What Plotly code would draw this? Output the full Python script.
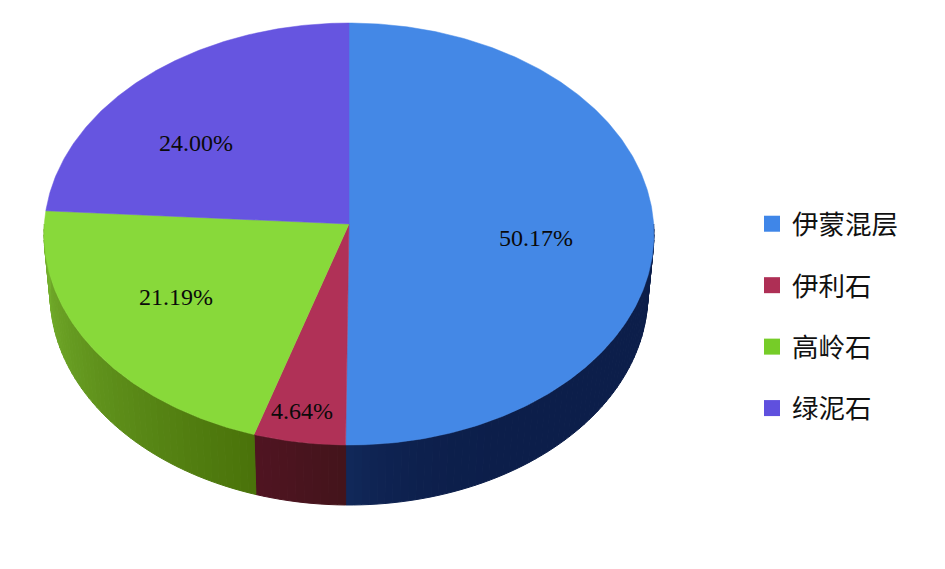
import math
import plotly.graph_objects as go

categories = ["伊蒙混层", "伊利石", "高岭石", "绿泥石"]
values = [50.17, 4.64, 21.19, 24.00]
top_colors = ["#4488E6", "#B03157", "#88D93A", "#6655E0"]
legend_colors = ["#3F86E8", "#AE2F55", "#76CC28", "#5F50DE"]
# wall colour at the start and end of each slice's visible run (clockwise)
wall_start = [(12, 30, 74), (68, 20, 27), (74, 115, 10), (100, 100, 100)]
wall_end = [(18, 42, 92), (80, 20, 34), (118, 178, 46), (100, 100, 100)]
label_x = [536, 302, 176, 196]
label_y = [240, 413, 299, 145]

W, H = 945, 569
CX, CY, RX, RY = 349, 234, 305, 211
K = 10 / 211          # perspective shift of the pie centre
DEPTH = 60 / RY
BOTTOM_SCALE = 0.98   # the lower rim is slightly narrower than the top


def project(theta, r=1.0):
    u, v = r * math.sin(theta), r * math.cos(theta)
    d = 1 + K * v
    return u * math.sqrt(1 - K * K) / d, (v + K) / d


def px(x):
    return (x - CX) / RX


def py(y):
    return (CY - y) / RY


fig = go.Figure()
total = sum(values)
start = 0.0
spans = []
for v in values:
    end = start + v / total * 2 * math.pi
    spans.append((start, end))
    start = end

# side wall, drawn as narrow strips so the shading can vary
for i, (a, b) in enumerate(spans):
    lo, hi = max(a, math.pi / 2), min(b, 3 * math.pi / 2)
    if hi <= lo:
        continue
    n = max(2, int((hi - lo) / 0.025))
    for j in range(n):
        t0 = lo + (hi - lo) * j / n
        t1 = lo + (hi - lo) * (j + 1) / n
        f = (t0 - lo) / (hi - lo)
        if i == 0:
            f = f ** 10
        col = tuple(round(s + (e - s) * f) for s, e in zip(wall_start[i], wall_end[i]))
        pts = [project(t0 + (t1 - t0) * m / 4) for m in range(5)]
        xs = [p[0] for p in pts] + [p[0] * BOTTOM_SCALE for p in reversed(pts)] + [pts[0][0]]
        ys = [p[1] for p in pts] + [p[1] - DEPTH for p in reversed(pts)] + [pts[0][1]]
        c = f"rgb{col}"
        fig.add_trace(go.Scatter(x=xs, y=ys, mode="lines", fill="toself", fillcolor=c,
                                 line=dict(color=c, width=1), hoverinfo="skip", showlegend=False))

# top face
for i, (a, b) in enumerate(spans):
    n = max(4, int((b - a) / 0.01))
    arc = [project(a + (b - a) * j / n) for j in range(n + 1)]
    apex = project(0, 0)
    xs = [apex[0]] + [p[0] for p in arc] + [apex[0]]
    ys = [apex[1]] + [p[1] for p in arc] + [apex[1]]
    fig.add_trace(go.Scatter(x=xs, y=ys, mode="lines", fill="toself", fillcolor=top_colors[i],
                             line=dict(color=top_colors[i], width=0.5), name=categories[i],
                             hovertemplate=f"{categories[i]}: {values[i]:.2f}%<extra></extra>",
                             showlegend=False))

# labels
fig.add_trace(go.Scatter(x=[px(v) for v in label_x], y=[py(v) for v in label_y], mode="text",
                         text=[f"{v:.2f}%" for v in values],
                         textfont=dict(family="Liberation Serif", size=24, color="#0a0a0a"),
                         hoverinfo="skip", showlegend=False))

# legend entries
for i, name in enumerate(categories):
    fig.add_trace(go.Scatter(x=[None], y=[None], mode="markers", name=name, legendgroup=name,
                             marker=dict(symbol="square", size=16, color=legend_colors[i])))

fig.update_layout(
    width=W, height=H, margin=dict(l=0, r=0, t=0, b=0),
    paper_bgcolor="white", plot_bgcolor="white",
    xaxis=dict(visible=False, range=[px(0), px(W)], fixedrange=True),
    yaxis=dict(visible=False, range=[py(H), py(0)], fixedrange=True),
    legend=dict(x=752 / W, y=1 - 200 / H, xanchor="left", yanchor="top",
                font=dict(family="Noto Sans CJK SC", size=26.5, color="#111111"),
                tracegroupgap=24, bgcolor="rgba(0,0,0,0)", itemsizing="trace"),
    showlegend=True,
)
fig.write_html("out.html", config={"displayModeBar": False},
               post_script="document.body.style.margin='0';document.body.style.overflow='hidden';")
